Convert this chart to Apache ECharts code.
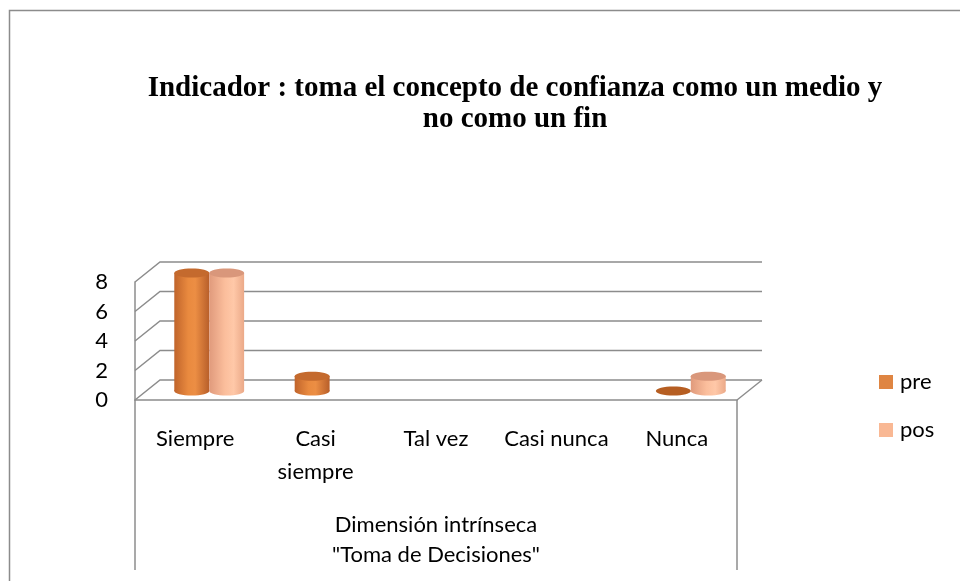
<!DOCTYPE html>
<html>
<head>
<meta charset="utf-8">
<script src="https://cdn.jsdelivr.net/npm/echarts@6/dist/echarts.min.js"></script>
<style>
  html, body { margin: 0; padding: 0; background: #fff; }
  #chart { width: 960px; height: 581px; }
</style>
</head>
<body>
<div id="chart"></div>
<script>
var categories = ['Siempre', 'Casi siempre', 'Tal vez', 'Casi nunca', 'Nunca'];
// null = celda vacia (no se dibuja), 0 = disco plano
var preValues = [8, 1, null, null, 0];
var posValues = [8, null, null, null, 1];
var seriesNames = ['pre', 'pos'];
var yMin = 0, yMax = 8, yStep = 2;

var chart = echarts.init(document.getElementById('chart'));

var depth = { x: 25, y: -20 };      // back wall offset
var mid = { x: 14, y: -9 };         // bars stand in the middle of the floor
var lineColor = '#8c8c8c';
var labelFont = 'Lato';

var colors = {
  pre: {
    legend: '#DF8542',
    top: '#C46A2E',
    disc: '#B65E22',
    body: [
      { offset: 0, color: '#C0642B' },
      { offset: 0.4, color: '#E98A3F' },
      { offset: 0.6, color: '#EC8E44' },
      { offset: 1, color: '#B85F2A' }
    ]
  },
  pos: {
    legend: '#F9B894',
    top: '#D9977B',
    disc: '#D9977B',
    body: [
      { offset: 0, color: '#E09A7C' },
      { offset: 0.45, color: '#FBBE9C' },
      { offset: 0.7, color: '#FFC8A8' },
      { offset: 1, color: '#EBA988' }
    ]
  }
};

function wallsRender(params, api) {
  var cs = params.coordSys;
  var x0 = cs.x, x1 = cs.x + cs.width;
  var children = [];
  for (var v = yMin; v <= yMax; v += yStep) {
    var y = api.coord([0, v])[1];
    children.push({
      type: 'polyline',
      shape: { points: [[x0, y], [x0 + depth.x, y + depth.y], [x1 + depth.x, y + depth.y]] },
      style: { stroke: lineColor, lineWidth: 1.5, fill: null }
    });
  }
  var y0 = api.coord([0, yMin])[1];
  children.push({
    type: 'line',
    shape: { x1: x1, y1: y0, x2: x1 + depth.x, y2: y0 + depth.y },
    style: { stroke: lineColor, lineWidth: 1.5 }
  });
  // lineas de la tabla de categorias
  [x0, x1].forEach(function (x) {
    children.push({
      type: 'line',
      shape: { x1: x, y1: y0, x2: x, y2: y0 + 170 },
      style: { stroke: lineColor, lineWidth: 1.5 }
    });
  });
  return { type: 'group', children: children };
}

function cylinderRender(key, side) {
  return function (params, api) {
    var val = api.value(1);
    if (val == null || isNaN(val)) return;
    var idx = api.value(0);
    var top = api.coord([idx, val]);
    var base = api.coord([idx, 0]);
    var band = api.size([1, 0])[0];
    var w = band * 0.29;
    var cx = top[0] + mid.x + side * w / 2;
    var rx = w / 2, ry = 4.5;
    var topY = top[1] + mid.y, botY = base[1] + mid.y;
    var c = colors[key];
    var grad = { type: 'linear', x: 0, y: 0, x2: 1, y2: 0, colorStops: c.body };
    if (val === 0) {
      return {
        type: 'ellipse',
        shape: { cx: cx, cy: botY, rx: rx, ry: ry },
        style: { fill: c.disc }
      };
    }
    return {
      type: 'group',
      children: [
        { type: 'ellipse', shape: { cx: cx, cy: botY, rx: rx, ry: ry }, style: { fill: grad } },
        { type: 'rect', shape: { x: cx - rx, y: topY, width: w, height: botY - topY }, style: { fill: grad } },
        { type: 'ellipse', shape: { cx: cx, cy: topY, rx: rx, ry: ry }, style: { fill: c.top } }
      ]
    };
  };
}

function toData(arr) {
  return arr.map(function (v, i) { return [i, v == null ? '-' : v]; });
}

var option = {
  backgroundColor: '#fff',
  animation: false,
  title: {
    text: 'Indicador : toma el concepto de confianza como un medio y\nno como un fin',
    left: 510,
    top: 68,
    textAlign: 'center',
    textStyle: {
      fontFamily: 'Liberation Serif',
      fontWeight: 'bold',
      fontSize: 29,
      lineHeight: 31,
      color: '#000'
    }
  },
  graphic: [{
    type: 'rect',
    shape: { x: 9.5, y: 10.5, width: 1200, height: 1200 },
    style: { fill: null, stroke: '#8c8c8c', lineWidth: 1.5 },
    silent: true
  }],
  legend: {
    orient: 'vertical',
    left: 874,
    top: 366,
    itemWidth: 14,
    itemHeight: 14,
    itemGap: 26,
    textStyle: { fontFamily: labelFont, fontSize: 22, color: '#000', padding: [0, 0, 0, 2] },
    data: [
      { name: 'pre', icon: 'rect', itemStyle: { color: colors.pre.legend } },
      { name: 'pos', icon: 'rect', itemStyle: { color: colors.pos.legend } }
    ]
  },
  grid: { left: 135, right: 223, top: 282, bottom: 181 },
  xAxis: {
    type: 'category',
    data: categories,
    axisLine: { show: true, lineStyle: { color: lineColor, width: 1.5 } },
    axisTick: { show: false },
    axisLabel: {
      interval: 0,
      margin: 22,
      fontFamily: labelFont,
      fontSize: 22,
      lineHeight: 33,
      color: '#000',
      formatter: function (v) { return v === 'Casi siempre' ? 'Casi\nsiempre' : v; }
    },
    name: 'Dimensión intrínseca\n"Toma de Decisiones"',
    nameLocation: 'middle',
    nameGap: 110,
    nameTextStyle: { fontFamily: labelFont, fontSize: 22, lineHeight: 30, color: '#000' },
    splitLine: { show: false }
  },
  yAxis: {
    type: 'value',
    min: yMin,
    max: yMax,
    interval: yStep,
    axisLine: { show: true, lineStyle: { color: lineColor, width: 1.5 } },
    axisTick: { show: false },
    splitLine: { show: false },
    axisLabel: { margin: 27, fontFamily: labelFont, fontSize: 22, color: '#000' }
  },
  series: [
    {
      type: 'custom',
      name: 'walls',
      silent: true,
      z: 1,
      renderItem: wallsRender,
      data: [[0, 0]]
    },
    {
      type: 'custom',
      name: seriesNames[0],
      z: 3,
      itemStyle: { color: colors.pre.legend },
      renderItem: cylinderRender('pre', -1),
      data: toData(preValues)
    },
    {
      type: 'custom',
      name: seriesNames[1],
      z: 3,
      itemStyle: { color: colors.pos.legend },
      renderItem: cylinderRender('pos', 1),
      data: toData(posValues)
    }
  ]
};
chart.setOption(option);
</script>
</body>
</html>
